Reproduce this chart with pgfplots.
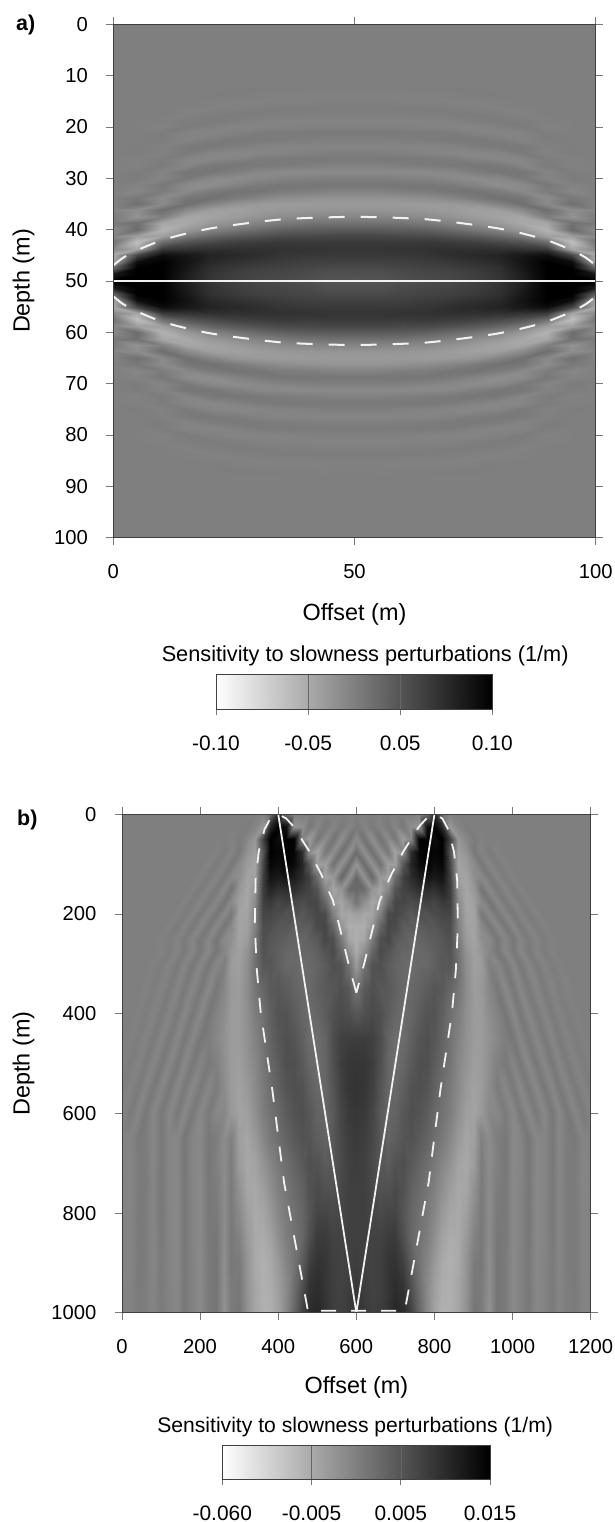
\documentclass[border=0pt]{standalone}
\usepackage{fontspec}
\setmainfont{Liberation Sans}
\usepackage{pgfplots}
\usepackage{pgfplotstable}
\pgfplotsset{compat=1.18}
\pgfplotsset{colormap={sw}{gray(0cm)=(1); gray(1cm)=(0)}}
\definecolor{axc}{gray}{0.25}
\definecolor{wl}{gray}{0.95}
\pgfplotstableread[row sep=\\,header=false]{
0\\0\\0\\0\\0\\0\\0\\0\\0\\0\\0\\
0\\0\\0\\0\\0\\0\\0\\0\\0\\0\\0\\
0\\0\\0\\0\\0\\0\\0\\0\\0\\0\\0\\
0\\0\\0\\0\\0\\0\\0\\0\\0\\0\\0\\
0\\0\\0\\0\\0\\0\\0\\0\\0\\0\\0\\
0\\0\\0\\0\\0\\0\\0\\0\\0\\0\\0\\
0\\0\\0\\0\\0\\0\\0\\0\\0\\0\\0\\
0\\0\\0\\0\\0\\0\\0\\0\\0\\0\\0\\
0\\0\\0\\0\\0\\0\\0\\0\\0\\0\\0\\
0\\0\\0\\0\\0\\0\\0\\0\\0\\1\\1\\
0\\0\\0\\0\\0\\1\\1\\1\\1\\0\\0\\
0\\0\\0\\0\\1\\1\\0\\-1\\-1\\-1\\-1\\
0\\0\\0\\1\\0\\-2\\-2\\-1\\-1\\0\\0\\
0\\0\\0\\-1\\-2\\-1\\1\\2\\2\\2\\2\\
0\\0\\1\\-2\\1\\3\\2\\1\\1\\0\\0\\
0\\0\\-1\\2\\3\\1\\-2\\-3\\-3\\-3\\-3\\
0\\0\\-2\\3\\-1\\-4\\-3\\-2\\-1\\0\\0\\
0\\0\\2\\-3\\-4\\-1\\3\\4\\4\\4\\4\\
0\\0\\2\\-3\\2\\5\\4\\2\\1\\0\\0\\
0\\1\\-1\\4\\5\\2\\-2\\-4\\-4\\-4\\-4\\
0\\2\\-2\\4\\-4\\-6\\-5\\-3\\-1\\1\\1\\
0\\-1\\2\\-5\\-6\\-2\\3\\5\\5\\5\\5\\
0\\-2\\3\\-5\\5\\7\\5\\3\\1\\-1\\-1\\
0\\2\\-3\\7\\7\\1\\-6\\-8\\-8\\-8\\-8\\
0\\3\\-4\\5\\-6\\-10\\-7\\-3\\-1\\1\\1\\
0\\-3\\6\\-9\\-11\\-3\\4\\7\\7\\7\\7\\
0\\-6\\3\\-8\\3\\9\\8\\3\\1\\-2\\-2\\
0\\6\\-10\\7\\11\\4\\-5\\-11\\-13\\-16\\-16\\
-2\\12\\-8\\12\\-3\\-16\\-20\\-22\\-21\\-21\\-21\\
-4\\-12\\14\\-8\\-24\\-26\\-22\\-19\\-17\\-16\\-16\\
3\\-15\\0\\-30\\-28\\-22\\-14\\-9\\-6\\-4\\-4\\
5\\12\\-30\\-32\\-20\\-11\\-2\\5\\9\\11\\11\\
-8\\15\\-40\\-20\\-3\\8\\17\\25\\28\\30\\30\\
-5\\-25\\-25\\5\\20\\30\\37\\42\\43\\45\\45\\
10\\-50\\15\\35\\44\\50\\53\\56\\54\\55\\55\\
-5\\-30\\55\\60\\62\\62\\62\\61\\60\\59\\59\\
-35\\45\\90\\82\\72\\68\\64\\58\\56\\55\\55\\
-30\\90\\100\\85\\68\\62\\57\\53\\50\\49\\49\\
20\\100\\100\\82\\62\\55\\50\\48\\45\\42\\42\\
80\\100\\100\\78\\60\\51\\46\\44\\41\\37\\37\\
100\\100\\100\\76\\58\\50\\44\\42\\38\\34\\33\\
}\ta
\pgfplotstableread[row sep=\\,header=false]{
0\\0\\0\\0\\0\\0\\0\\0\\0\\0\\0\\0\\0\\0\\0\\0\\0\\0\\-2\\15\\70\\15\\-3\\2\\0\\-1\\1\\-1\\1\\-1\\1\\
0\\0\\0\\0\\0\\0\\0\\0\\0\\0\\0\\0\\0\\0\\0\\0\\2\\-4\\-20\\70\\100\\90\\-15\\-12\\6\\-5\\5\\-4\\4\\-4\\5\\
0\\0\\0\\0\\0\\0\\0\\0\\0\\0\\0\\0\\0\\1\\-2\\3\\-6\\-18\\50\\100\\90\\100\\98\\-5\\-22\\6\\-10\\10\\-12\\10\\-10\\
0\\0\\0\\0\\0\\0\\0\\0\\0\\0\\0\\1\\-2\\3\\-4\\5\\-15\\-25\\35\\100\\95\\100\\95\\65\\-10\\-28\\5\\-12\\12\\-12\\15\\
0\\0\\0\\0\\0\\0\\0\\0\\0\\0\\1\\-2\\3\\-4\\6\\-8\\-22\\-28\\45\\95\\90\\100\\92\\72\\32\\-25\\-25\\10\\-14\\14\\-16\\
0\\0\\0\\0\\0\\0\\0\\0\\0\\1\\-2\\3\\-4\\5\\-7\\-12\\-28\\-25\\50\\85\\80\\85\\78\\65\\50\\15\\-28\\-20\\18\\-14\\18\\
0\\0\\0\\0\\0\\0\\0\\0\\1\\-2\\3\\-4\\5\\-7\\8\\-18\\-30\\-15\\52\\72\\62\\65\\64\\55\\48\\35\\-5\\-30\\-18\\15\\18\\
0\\0\\0\\0\\0\\0\\0\\1\\-2\\3\\-4\\5\\-6\\8\\-8\\-25\\-30\\-8\\50\\55\\45\\50\\45\\40\\45\\45\\20\\-22\\-30\\-12\\8\\
0\\0\\0\\0\\0\\0\\1\\-2\\3\\-4\\5\\-6\\7\\-7\\5\\-28\\-28\\-3\\45\\45\\40\\35\\38\\30\\38\\45\\42\\0\\-30\\-32\\-25\\
0\\0\\0\\0\\0\\1\\-2\\3\\-4\\5\\-6\\7\\-7\\7\\-8\\-28\\-26\\0\\40\\38\\32\\32\\26\\28\\28\\42\\45\\20\\-18\\-36\\-36\\
0\\0\\0\\0\\0\\-1\\2\\-3\\4\\-5\\6\\-6\\7\\-8\\-12\\-28\\-22\\5\\38\\32\\28\\25\\22\\20\\25\\30\\45\\38\\5\\-30\\-38\\
0\\0\\0\\0\\1\\-2\\3\\-4\\5\\-6\\6\\-7\\7\\-5\\-18\\-26\\-15\\10\\35\\30\\25\\20\\18\\20\\20\\25\\35\\42\\20\\-12\\-35\\
0\\0\\0\\1\\-1\\2\\-3\\4\\-5\\6\\-6\\7\\-6\\0\\-22\\-25\\-12\\12\\32\\32\\25\\18\\18\\15\\18\\22\\28\\38\\35\\10\\-22\\
0\\0\\1\\-2\\2\\-3\\4\\-5\\5\\-6\\6\\-7\\6\\-6\\-20\\-22\\-10\\8\\20\\30\\33\\28\\22\\18\\18\\25\\30\\32\\38\\30\\10\\
0\\1\\-1\\2\\-3\\4\\-4\\5\\-6\\6\\-7\\7\\-3\\-10\\-22\\-22\\-12\\2\\12\\25\\35\\35\\28\\20\\15\\20\\28\\38\\42\\38\\32\\
1\\-1\\2\\-3\\4\\-5\\5\\-6\\6\\-6\\7\\2\\-6\\-14\\-22\\-22\\-14\\-2\\10\\22\\32\\38\\34\\25\\15\\14\\22\\40\\50\\52\\52\\
-1\\2\\-3\\4\\-5\\6\\-6\\6\\-7\\6\\-4\\5\\0\\-12\\-22\\-24\\-16\\-6\\8\\18\\28\\38\\38\\30\\20\\14\\20\\38\\52\\58\\58\\
2\\-3\\4\\-5\\6\\-6\\6\\-7\\5\\-7\\5\\-6\\3\\-10\\-22\\-27\\-20\\-8\\4\\14\\24\\34\\38\\36\\26\\18\\20\\34\\50\\58\\60\\
-3\\4\\-5\\6\\-6\\6\\-7\\5\\-7\\5\\-7\\4\\-6\\-6\\-20\\-28\\-25\\-12\\2\\10\\18\\28\\35\\38\\32\\22\\20\\30\\46\\55\\57\\
-3\\-4\\5\\3\\-6\\6\\-5\\-6\\7\\-4\\-7\\6\\2\\-10\\0\\-25\\-30\\-20\\-6\\6\\14\\22\\30\\36\\34\\26\\22\\32\\44\\52\\54\\
-2\\-5\\3\\4\\-6\\6\\-5\\-6\\7\\-5\\-7\\7\\0\\-10\\3\\-22\\-32\\-28\\-15\\-5\\6\\14\\22\\30\\38\\36\\28\\32\\42\\50\\52\\
-2\\-5\\3\\4\\-5\\6\\-5\\-7\\7\\-4\\-8\\6\\3\\-10\\4\\-14\\-30\\-32\\-24\\-12\\0\\8\\16\\24\\36\\42\\36\\36\\44\\50\\50\\
-2\\-4\\4\\3\\-5\\6\\-4\\-7\\7\\-3\\-8\\6\\5\\-10\\5\\-8\\-25\\-33\\-30\\-20\\-5\\5\\12\\20\\34\\46\\46\\42\\46\\50\\50\\
-2\\-4\\4\\3\\-5\\5\\-4\\-7\\7\\-3\\-8\\5\\7\\-10\\6\\-2\\-20\\-33\\-35\\-28\\-12\\2\\10\\20\\38\\54\\54\\48\\48\\50\\50\\
-2\\-4\\4\\3\\-5\\4\\-3\\-7\\6\\-2\\-8\\4\\8\\-12\\6\\4\\-16\\-33\\-38\\-33\\-20\\-4\\10\\28\\50\\60\\58\\50\\48\\50\\52\\
-2\\-3\\4\\2\\-4\\4\\-3\\-6\\6\\-2\\-8\\4\\8\\-12\\4\\6\\-15\\-30\\-38\\-36\\-24\\-8\\14\\38\\60\\65\\58\\50\\48\\52\\58\\
-2\\-3\\3\\2\\-4\\4\\-3\\-6\\6\\-2\\-8\\4\\8\\-14\\4\\8\\-14\\-30\\-38\\-38\\-26\\-6\\20\\48\\65\\70\\60\\52\\50\\55\\60\\
}\tb
\newcommand{\XA}{mod(\coordindex,11)*5}
\newcommand{\YA}{floor((\coordindex+0.5)/11)*1.25}
\newcommand{\XB}{mod(\coordindex,31)*20}
\newcommand{\YB}{ifthenelse(floor((\coordindex+0.5)/31)<=12,floor((\coordindex+0.5)/31)*25,300+(floor((\coordindex+0.5)/31)-12)*50)}
\pgfplotsset{
 myaxis/.style={
  scale only axis, axis on top, y dir=reverse,
  colormap name=sw, point meta min=-100, point meta max=100,
  axis line style={color=axc,line width=0.8bp},
  tick style={color=axc!70,line width=0.6bp},
  tick align=outside, major tick length=7bp,
  xtick pos=both, ytick pos=both,
  ticklabel style={font=\fontsize{20.3}{24}\selectfont},
  /pgf/number format/assume math mode=true,
  /pgf/number format/fixed,
  /pgf/number format/1000 sep={},
  xlabel style={font=\fontsize{23.5}{27}\selectfont},
  ylabel style={font=\fontsize{23.5}{27}\selectfont},
  xticklabel style={yshift=-16bp},
  yticklabel style={xshift=-15bp},
  enlargelimits=false,
 },
 cbar/.style={
  scale only axis, axis on top, colormap name=sw,
  point meta min=0, point meta max=3,
  xmin=0, xmax=3, ymin=0, ymax=1, ytick=\empty,
  xtick={0,1,2,3}, xtick pos=bottom, tick align=outside,
  major tick length=6bp,
  xmajorgrids, grid style={color=axc!80,line width=0.5bp},
  axis line style={color=axc,line width=0.8bp},
  tick style={color=axc!70,line width=0.6bp},
  ticklabel style={font=\fontsize{21}{24}\selectfont},
  xticklabel style={yshift=-17bp},
 },
 sf/.style={surf,shader=interp,point meta=explicit},
}
\begin{document}
\begin{tikzpicture}
\useasboundingbox (0,0) rectangle (615bp,-1522bp);
\node[anchor=base west,inner sep=0pt,font=\bfseries\fontsize{21.5}{24}\selectfont] at (16bp,-30.7bp) {a)};
\node[anchor=base west,inner sep=0pt,font=\bfseries\fontsize{21.5}{24}\selectfont] at (17bp,-825bp) {b)};
\begin{axis}[myaxis, at={(113.3bp,-537.5bp)}, anchor=south west,
  width=482.4bp, height=513.2bp,
  xmin=0,xmax=100,ymin=0,ymax=100,
  xtick={0,50,100}, ytick={0,10,...,100},
  xlabel={Offset (m)}, ylabel={Depth (m)},
  xlabel style={at={(axis description cs:0.5,0)},anchor=center,yshift=-77bp},
  ylabel style={at={(axis description cs:0,0.5)},anchor=center,yshift=89.7bp},
  ]
\addplot[sf,mesh/cols=11] table[x index=0,y index=0,meta index=0,x expr={\XA},y expr={\YA}] {\ta};
\addplot[sf,mesh/cols=11] table[x index=0,y index=0,meta index=0,x expr={100-\XA},y expr={\YA}] {\ta};
\addplot[sf,mesh/cols=11] table[x index=0,y index=0,meta index=0,x expr={\XA},y expr={100-\YA}] {\ta};
\addplot[sf,mesh/cols=11] table[x index=0,y index=0,meta index=0,x expr={100-\XA},y expr={100-\YA}] {\ta};
\addplot[wl,line width=2.1bp,forget plot] coordinates {(0,50) (100,50)};
\addplot[wl,line width=2bp,dash pattern=on 16bp off 16bp,smooth,forget plot] coordinates {(0,47) (2,45.5) (5,44) (10,42.1) (15,40.8) (20,39.8) (25,39.1) (30,38.5) (35,38) (40,37.75) (45,37.6) (50,37.5) (55,37.6) (60,37.75) (65,38) (70,38.5) (75,39.1) (80,39.8) (85,40.8) (90,42.1) (95,44) (98,45.5) (100,47)};
\addplot[wl,line width=2bp,dash pattern=on 16bp off 16bp,smooth,forget plot] coordinates {(0,53) (2,54.5) (5,56) (10,57.9) (15,59.2) (20,60.2) (25,60.9) (30,61.5) (35,62) (40,62.25) (45,62.4) (50,62.5) (55,62.4) (60,62.25) (65,62) (70,61.5) (75,60.9) (80,60.2) (85,59.2) (90,57.9) (95,56) (98,54.5) (100,53)};
\end{axis}
\begin{axis}[cbar, at={(216bp,-709.3bp)}, anchor=south west,
  width=276.3bp, height=35.3bp,
  title={Sensitivity to slowness perturbations (1/m)},
  title style={at={(0.5,1)},anchor=south,yshift=-1bp,xshift=11bp,font=\fontsize{21.8}{25}\selectfont},
  xticklabels={-0.10,-0.05,0.05,0.10}]
\addplot[surf,shader=interp,mesh/cols=2,point meta=x] coordinates {(0,0) (3,0) (0,1) (3,1)};
\end{axis}
\begin{axis}[myaxis, at={(122bp,-1312.7bp)}, anchor=south west,
  width=468.7bp, height=498.4bp,
  xmin=0,xmax=1200,ymin=0,ymax=1000,
  xtick={0,200,...,1200}, ytick={0,200,...,1000},
  xlabel={Offset (m)}, ylabel={Depth (m)},
  xlabel style={at={(axis description cs:0.5,0)},anchor=center,yshift=-75bp},
  ylabel style={at={(axis description cs:0,0.5)},anchor=center,yshift=98.4bp},
  ]
\addplot[sf,mesh/cols=31] table[x index=0,y index=0,meta index=0,x expr={\XB},y expr={\YB}] {\tb};
\addplot[sf,mesh/cols=31] table[x index=0,y index=0,meta index=0,x expr={1200-\XB},y expr={\YB}] {\tb};
\addplot[wl,line width=1.8bp,forget plot] coordinates {(400,0) (600,1000) (800,0)};
\addplot[wl,line width=1.8bp,dash pattern=on 15bp off 15bp,forget plot] coordinates {(600,358) (580,300) (560,235) (540,173) (510,120) (480,75) (440,25) (420,8) (400,0) (380,8) (365,30) (350,75) (342,130) (340,222) (345,310) (355,397) (385,554) (415,739) (466,954) (476,996) (600,996) (724,996) (734,954) (785,739) (815,554) (845,397) (855,310) (860,222) (858,130) (850,75) (835,30) (820,8) (800,0) (780,8) (760,25) (720,75) (690,120) (660,173) (640,235) (620,300) (600,358)};
\end{axis}
\begin{axis}[cbar, at={(222.3bp,-1479.3bp)}, anchor=south west,
  width=267.7bp, height=34.3bp,
  title={Sensitivity to slowness perturbations (1/m)},
  title style={at={(0.5,1)},anchor=south,yshift=-1bp,xshift=-1bp,font=\fontsize{21.2}{25}\selectfont},
  xticklabels={-0.060,-0.005,0.005,0.015}]
\addplot[surf,shader=interp,mesh/cols=2,point meta=x] coordinates {(0,0) (3,0) (0,1) (3,1)};
\end{axis}
\end{tikzpicture}
\end{document}
